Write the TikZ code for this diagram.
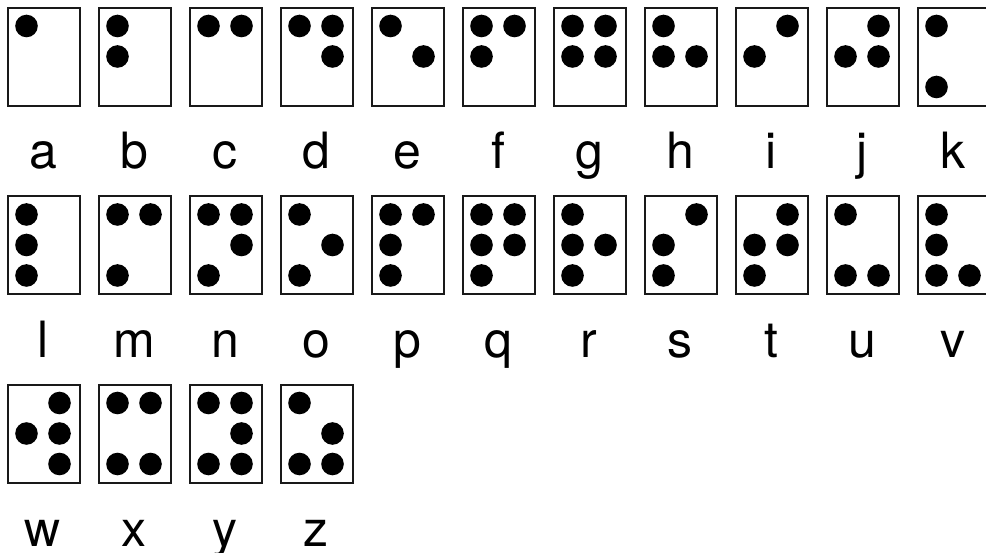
\documentclass[tikz,border=0pt]{standalone}
\usepackage{fontspec}
\setmainfont{TeX Gyre Heros}
\tikzset{
  brcell/.style={draw=black!90, line width=2pt, fill=white, rectangle, inner sep=0pt,
    minimum width=72pt, minimum height=98pt, anchor=north west},
  brlab/.style={anchor=base, inner sep=0pt, font=\fontsize{50}{50}\selectfont},
  brdot/.style={fill=black}
}
\begin{document}
\begin{tikzpicture}[x=1pt,y=-1pt]
\useasboundingbox (0,0) rectangle (986,553);
\clip (0,0) rectangle (986,553);
\fill[white] (0,0) rectangle (986,553);
\foreach [count=\i from 0] \l/\ds in {a/{1},b/{1,2},c/{1,4},d/{1,4,5},e/{1,5},f/{1,2,4},g/{1,2,4,5},h/{1,2,5},i/{2,4},j/{2,4,5},k/{1,3},
  l/{1,2,3},m/{1,3,4},n/{1,3,4,5},o/{1,3,5},p/{1,2,3,4},q/{1,2,3,4,5},r/{1,2,3,5},s/{2,3,4},t/{2,3,4,5},u/{1,3,6},v/{1,2,3,6},
  w/{2,4,5,6},x/{1,3,4,6},y/{1,3,4,5,6},z/{1,3,5,6}} {
  \pgfmathtruncatemacro\row{floor(\i/11)}
  \pgfmathtruncatemacro\col{mod(\i,11)}
  \pgfmathsetmacro\cx{6+91*\col}
  \pgfmathsetmacro\cy{6+188.5*\row}
  \node[brcell] (cell-\l) at (\cx+1,\cy+1) {};
  \foreach \d in \ds {
    \pgfmathsetmacro\dc{\d>3 ? 1 : 0}
    \pgfmathsetmacro\dr{mod(\d-1,3)}
    \fill[brdot] (\cx+20.5+33*\dc, \cy+20+30.5*\dr) circle[radius=11.3pt];
  }
  \node[brlab] (lab-\l) at (\cx+37, 169+188.5*\row) {\l};
}
\end{tikzpicture}
\end{document}
